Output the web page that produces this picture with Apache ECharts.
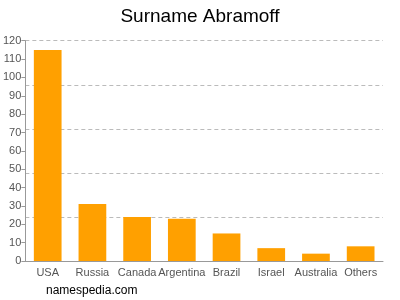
<!DOCTYPE html>
<html><head><meta charset="utf-8">
<script src="https://cdn.jsdelivr.net/npm/echarts@6/dist/echarts.min.js"></script>
<style>html,body{margin:0;padding:0;background:#fff}#c{width:400px;height:300px}</style>
</head><body><div id="c"></div>
<script>
var categories = ["USA","Russia","Canada","Argentina","Brazil","Israel","Australia","Others"];
var values = [115, 31, 24, 23, 15, 7, 4, 8];
var titleText = "Surname Abramoff";
var footerText = "namespedia.com";

var chart = echarts.init(document.getElementById('c'), null, {renderer:'canvas'});
chart.setOption({
  animation: false,
  textStyle: {fontFamily: 'Liberation Sans, Arial, sans-serif'},
  title: [{text: titleText, left: 'center', top: 2, textStyle:{fontSize:19, fontWeight:'normal', color:'#000', fontFamily:'Liberation Sans, Arial, sans-serif'}},
          {text: footerText, left: 46, top: 285, padding:0, textStyle:{fontSize:12, fontWeight:'normal', color:'#000', fontFamily:'Liberation Sans, Arial, sans-serif'}}],
  grid: {left: 25, right: 17, top: 40.7, bottom: 39},
  xAxis: {type:'category', data: categories,
    axisLine:{lineStyle:{color:'#999'}}, axisTick:{show:false},
    axisLabel:{color:'#555', fontSize:11, margin:6, interval:0}},
  yAxis: [
    {type:'value', min:0, max:120, interval:10,
     axisLine:{show:true, lineStyle:{color:'#999'}}, axisTick:{show:true, length:4, lineStyle:{color:'#999'}},
     axisLabel:{color:'#555', fontSize:11, margin:4}, splitLine:{show:false}},
    {type:'value', min:0, max:120, interval:24, position:'left',
     axisLine:{show:false}, axisTick:{show:false}, axisLabel:{show:false},
     splitLine:{show:true, lineStyle:{color:'#bbb', type:[4,3], width:1}}}
  ],
  series: [{type:'bar', data: values, barWidth:'62%', itemStyle:{color:'#FFA000'}, yAxisIndex:0}]
});
</script></body></html>
